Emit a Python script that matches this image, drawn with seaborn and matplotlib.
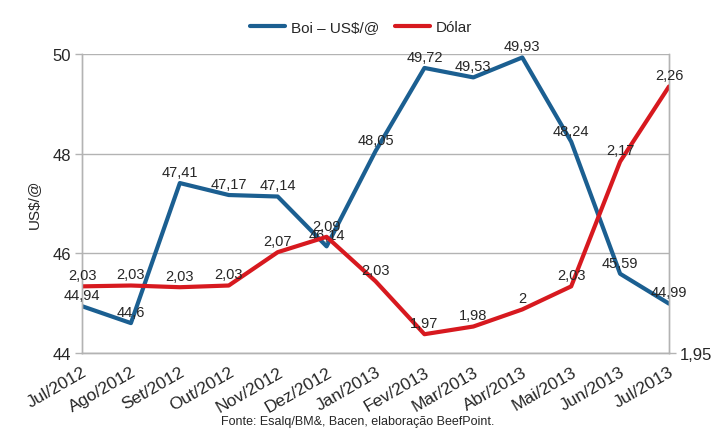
import seaborn as sns
import matplotlib.pyplot as plt
import pandas as pd

meses = ['Jul/2012', 'Ago/2012', 'Set/2012', 'Out/2012', 'Nov/2012', 'Dez/2012',
         'Jan/2013', 'Fev/2013', 'Mar/2013', 'Abr/2013', 'Mai/2013', 'Jun/2013', 'Jul/2013']
boi = [44.94, 44.6, 47.41, 47.17, 47.14, 46.14, 48.05, 49.72, 49.53, 49.93, 48.24, 45.59, 44.99]
dolar = [2.028, 2.029, 2.027, 2.029, 2.068, 2.086, 2.034, 1.972, 1.981, 2.001, 2.028, 2.174, 2.262]

azul = '#1b5f91'
vermelho = '#d7191f'
cinza = '#b3b3b3'


def rotulo(v):
    s = f'{v:.2f}'.rstrip('0').rstrip('.')
    return s.replace('.', ',')


sns.set_style("white")
plt.rcParams['font.family'] = ['Liberation Sans', 'DejaVu Sans']

df = pd.DataFrame({'x': range(len(meses)), 'boi': boi, 'dolar': dolar})

fig = plt.figure(figsize=(7.15, 4.35), dpi=100)
ax = fig.add_axes([0.1147, 0.1862, 0.821, 0.6874])
ax2 = ax.twinx()

sns.lineplot(ax=ax, data=df, x='x', y='boi', color=azul, lw=3,
             label='Boi – US$/@', legend=False)
sns.lineplot(ax=ax2, data=df, x='x', y='dolar', color=vermelho, lw=3,
             label='Dólar', legend=False)

for i, v in enumerate(boi):
    ax.annotate(rotulo(v), (i, v), xytext=(0, 3), textcoords='offset points',
                ha='center', va='bottom', fontsize=10.5, zorder=5)
for i, v in enumerate(dolar):
    ax2.annotate(rotulo(v), (i, v), xytext=(0, 3), textcoords='offset points',
                 ha='center', va='bottom', fontsize=10.5, zorder=5)

ax.set_xlim(0, len(meses) - 1)
ax.set_ylim(44, 50)
ax.set_yticks([44, 46, 48, 50])
ax.set_yticklabels(['44', '46', '48', '50'], fontsize=12)
ax.set_xticks(range(len(meses)))
ax.set_xticklabels(meses, rotation=30, ha='right', rotation_mode='anchor', fontsize=12.5)
ax.set_xlabel('')
ax.set_ylabel('US$/@', fontsize=11, labelpad=8)
ax.yaxis.grid(True, color=cinza, lw=1)
ax.set_axisbelow(True)

ax2.set_ylim(1.95, 2.30)
ax2.set_yticks([1.95])
ax2.set_yticklabels(['1,95'], fontsize=12)
ax2.set_ylabel('')

for a in (ax, ax2):
    for s in a.spines.values():
        s.set_color(cinza)
        s.set_linewidth(1)
    a.tick_params(axis='both', which='major', direction='out', length=5,
                  color=cinza, width=1, pad=3)
ax.spines['top'].set_visible(False)
ax2.spines['top'].set_visible(False)

h1, l1 = ax.get_legend_handles_labels()
h2, l2 = ax2.get_legend_handles_labels()
fig.legend(h1 + h2, l1 + l2, loc='center', bbox_to_anchor=(0.505, 0.935), ncol=2,
           frameon=False, fontsize=11, handlelength=2.3, columnspacing=1.0,
           handletextpad=0.4)

fig.text(0.50, 0.022, 'Fonte: Esalq/BM&, Bacen, elaboração BeefPoint.', ha='center',
         fontsize=9)

fig.savefig('out.png', dpi=100)
